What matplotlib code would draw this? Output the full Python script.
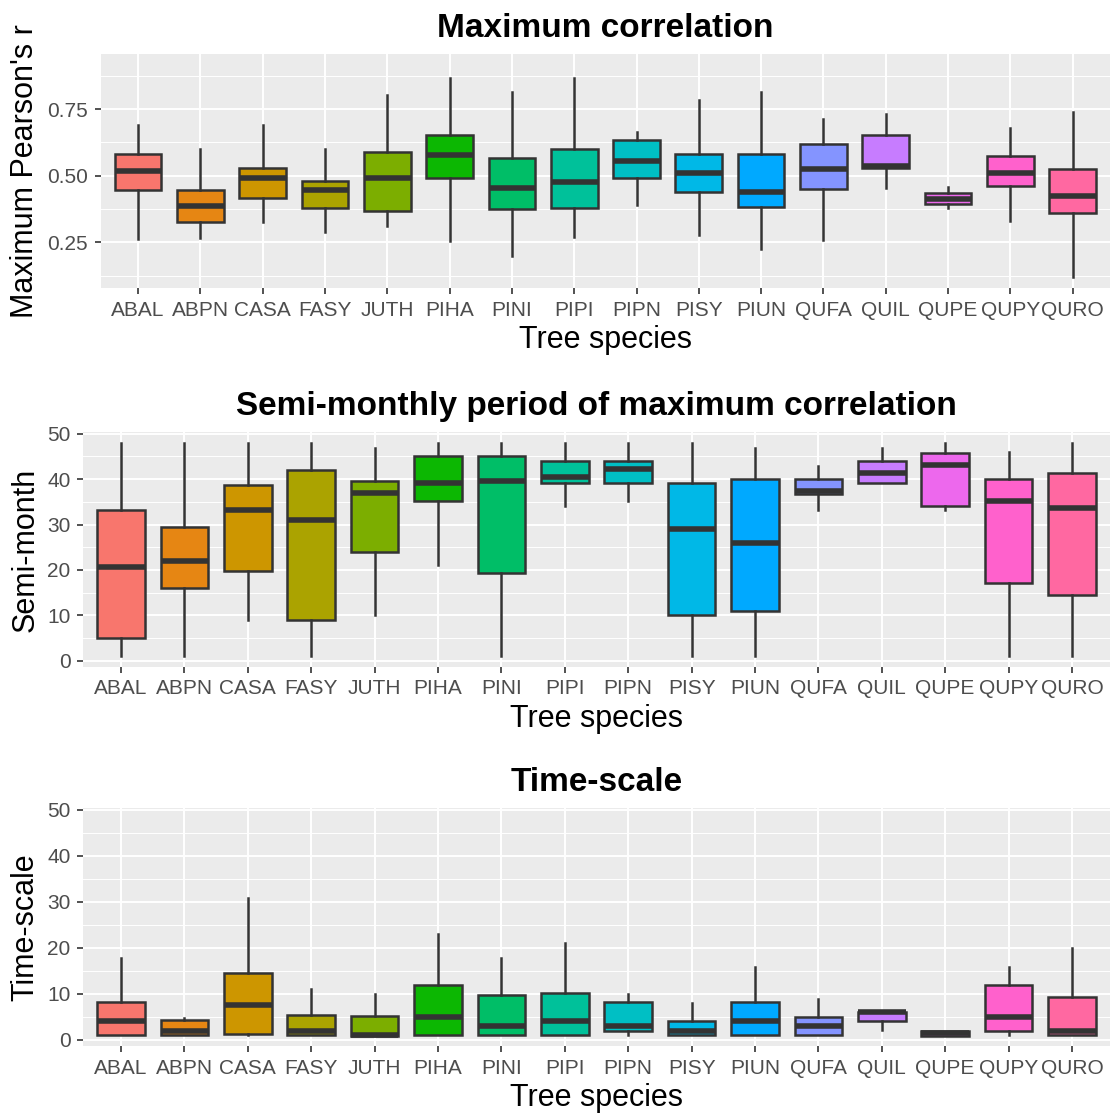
import matplotlib
matplotlib.use("Agg")
import matplotlib.pyplot as plt
from matplotlib.ticker import FixedLocator

plt.rcParams['font.family'] = ['Liberation Sans', 'DejaVu Sans']

species = ["ABAL", "ABPN", "CASA", "FASY", "JUTH", "PIHA", "PINI", "PIPI",
           "PIPN", "PISY", "PIUN", "QUFA", "QUIL", "QUPE", "QUPY", "QURO"]
colors = ["#F8766D", "#E68613", "#CD9600", "#ABA300", "#7CAE00", "#0CB702",
          "#00BE67", "#00C19A", "#00BFC4", "#00B8E7", "#00A9FF", "#8494FF",
          "#C77CFF", "#ED68ED", "#FF61CC", "#FF68A1"]

# maximum Pearson's r
r_lo = [0.264, 0.268, 0.325, 0.289, 0.31, 0.254, 0.198, 0.27, 0.391, 0.279, 0.225, 0.259, 0.456, 0.378, 0.329, 0.119]
r_q1 = [0.445, 0.325, 0.415, 0.381, 0.369, 0.491, 0.376, 0.381, 0.493, 0.441, 0.383, 0.449, 0.529, 0.396, 0.463, 0.36]
r_med = [0.519, 0.388, 0.49, 0.446, 0.49, 0.578, 0.456, 0.475, 0.556, 0.509, 0.439, 0.526, 0.535, 0.413, 0.511, 0.424]
r_q3 = [0.583, 0.448, 0.531, 0.481, 0.591, 0.654, 0.566, 0.601, 0.634, 0.581, 0.581, 0.62, 0.653, 0.435, 0.573, 0.525]
r_hi = [0.691, 0.60, 0.689, 0.60, 0.803, 0.866, 0.814, 0.866, 0.663, 0.786, 0.813, 0.713, 0.73, 0.458, 0.679, 0.738]

# semi-month of maximum correlation
sm_lo = [1, 1, 9, 1, 10.1, 21.1, 1, 34.1, 35.1, 1, 1, 33.2, 39.2, 33.2, 1, 1]
sm_q1 = [5.0, 16.0, 19.7, 9.0, 24.0, 35.1, 19.4, 39.1, 39.2, 10.0, 11.0, 36.8, 39.2, 34.0, 17.1, 14.6]
sm_med = [20.7, 22.0, 33.2, 31.1, 37.0, 39.2, 39.6, 40.5, 42.3, 29.1, 26.0, 37.4, 41.4, 43.2, 35.1, 33.7]
sm_q3 = [33.3, 29.5, 38.8, 42.0, 39.6, 45.0, 45.0, 44.0, 44.0, 39.1, 40.1, 40.1, 44.0, 45.7, 40.1, 41.3]
sm_hi = [48, 48, 48, 48, 46.9, 48, 48, 48, 48, 48, 46.9, 42.9, 46.9, 48, 46.0, 48]

# time-scale
ts_lo = [1, 1, 1, 1, 0.8, 1, 1, 1, 1.1, 1, 1, 1, 2.06, 0.75, 1.1, 1]
ts_q1 = [1, 1, 1.25, 1.1, 0.8, 1, 1, 1, 2.0, 1.0, 1, 1, 4.05, 0.75, 2.0, 1]
ts_med = [4.05, 1.9, 7.5, 2.0, 1.0, 4.9, 2.95, 4.05, 2.95, 2.0, 4.05, 3.0, 6.1, 1.4, 4.9, 2.0]
ts_q3 = [8.2, 4.4, 14.5, 5.45, 5.15, 12.0, 9.7, 10.1, 8.1, 4.0, 8.1, 4.9, 6.1, 1.95, 12.0, 9.2]
ts_hi = [17.8, 4.8, 30.9, 11.0, 9.9, 23.0, 17.8, 21.0, 9.9, 7.95, 15.8, 8.9, 6.2, 1.95, 15.8, 20.0]

W, H = 1112, 1117
fig = plt.figure(figsize=(W / 100, H / 100), dpi=100)


def px_axes(left, top, right, bottom):
    return fig.add_axes([left / W, 1 - bottom / H, (right - left) / W, (bottom - top) / H])


def panel(ax, lo, q1, med, q3, hi, title, ylabel, ylim, major, minor, fmt):
    stats = []
    for i in range(len(species)):
        stats.append(dict(whislo=lo[i], q1=q1[i], med=med[i], q3=q3[i], whishi=hi[i]))
    pos = list(range(1, len(species) + 1))
    b = ax.bxp(stats, positions=pos, widths=0.75, patch_artist=True,
               showcaps=False, showfliers=False,
               boxprops=dict(edgecolor="#333333", linewidth=1.8),
               whiskerprops=dict(color="#333333", linewidth=1.8),
               medianprops=dict(color="#333333", linewidth=4, solid_capstyle="butt"),
               zorder=3)
    for patch, c in zip(b["boxes"], colors):
        patch.set_facecolor(c)
    ax.set_facecolor("#EBEBEB")
    for s in ax.spines.values():
        s.set_visible(False)
    ax.set_xlim(0.4, len(species) + 0.6)
    ax.set_ylim(*ylim)
    ax.set_xticks(pos)
    ax.set_xticklabels(species)
    ax.set_yticks(major)
    ax.set_yticklabels([fmt.format(v) for v in major])
    ax.yaxis.set_minor_locator(FixedLocator(minor))
    ax.grid(True, which="major", color="white", linewidth=1.4, zorder=0)
    ax.grid(True, which="minor", axis="y", color="white", linewidth=0.7, zorder=0)
    ax.set_axisbelow(True)
    ax.tick_params(which="major", length=4, width=1.2, color="#333333",
                   labelsize=15, labelcolor="#4D4D4D", pad=5)
    ax.tick_params(which="minor", length=0)
    ax.set_title(title, fontsize=24, fontweight="bold", pad=12)
    ax.set_xlabel("Tree species", fontsize=22, labelpad=4)
    ax.set_ylabel(ylabel, fontsize=22, labelpad=5)


ax1 = px_axes(100.7, 54, 1110, 288)
panel(ax1, r_lo, r_q1, r_med, r_q3, r_hi, "Maximum correlation", "Maximum Pearson's r",
      (0.079, 0.957), [0.25, 0.50, 0.75], [0.125, 0.375, 0.625, 0.875], "{:.2f}")

ax2 = px_axes(83, 432, 1110, 667)
panel(ax2, sm_lo, sm_q1, sm_med, sm_q3, sm_hi, "Semi-monthly period of maximum correlation",
      "Semi-month", (-1.35, 50.35), [0, 10, 20, 30, 40, 50], [5, 15, 25, 35, 45], "{:d}")

ax3 = px_axes(83, 808, 1110, 1046)
panel(ax3, ts_lo, ts_q1, ts_med, ts_q3, ts_hi, "Time-scale", "Time-scale",
      (-1.35, 50.35), [0, 10, 20, 30, 40, 50], [5, 15, 25, 35, 45], "{:d}")

fig.savefig("out.png", dpi=100, facecolor="white")
